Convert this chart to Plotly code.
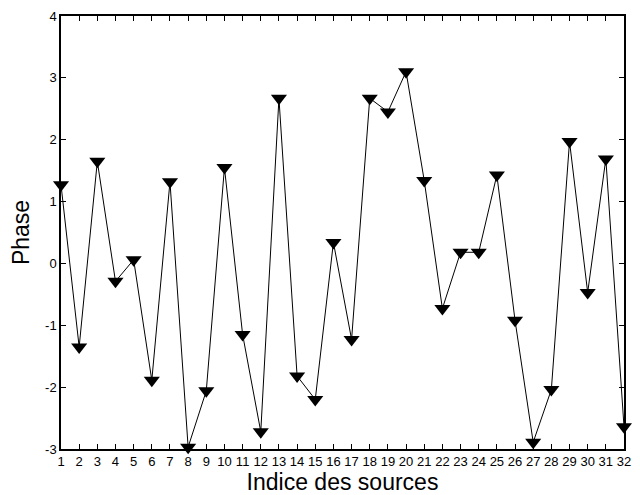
import plotly.graph_objects as go

sources = list(range(1, 33))
phase = [1.27, -1.35, 1.65, -0.29, 0.06, -1.89, 1.32, -2.97, -2.06, 1.55,
         -1.15, -2.72, 2.67, -1.82, -2.2, 0.34, -1.23, 2.67, 2.45, 3.10,
         1.34, -0.73, 0.18, 0.18, 1.43, -0.92, -2.89, -2.04, 1.97, -0.47,
         1.69, -2.64]
y_ticks = [-3, -2, -1, 0, 1, 2, 3, 4]

FONT = "Liberation Sans, Arial, sans-serif"

fig = go.Figure()
fig.add_trace(go.Scatter(
    x=sources, y=phase, mode="lines+markers",
    line=dict(color="black", width=1),
    marker=dict(symbol="triangle-down", size=14, color="black"),
    cliponaxis=False, showlegend=False,
))

axis_common = dict(
    showline=True, linecolor="black", linewidth=1.5, mirror="ticks",
    ticks="inside", ticklen=5, tickcolor="black", tickwidth=1,
    showgrid=False, zeroline=False, automargin=False,
    tickfont=dict(family=FONT, size=13, color="black"),
)
fig.update_xaxes(range=[1, 32], tickmode="array", tickvals=sources,
                 ticktext=[str(s) for s in sources],
                 title=dict(text="Indice des sources", standoff=2,
                            font=dict(family=FONT, size=23, color="black")),
                 **axis_common)
fig.update_yaxes(range=[-3, 4], tickmode="array", tickvals=y_ticks,
                 ticktext=[str(t) for t in y_ticks],
                 title=dict(text="Phase", standoff=14,
                            font=dict(family=FONT, size=23, color="black")),
                 **axis_common)
fig.update_layout(
    width=632, height=487,
    margin=dict(l=53, r=16, t=8, b=46),
    plot_bgcolor="white", paper_bgcolor="white",
)
fig.write_html("out.html")
